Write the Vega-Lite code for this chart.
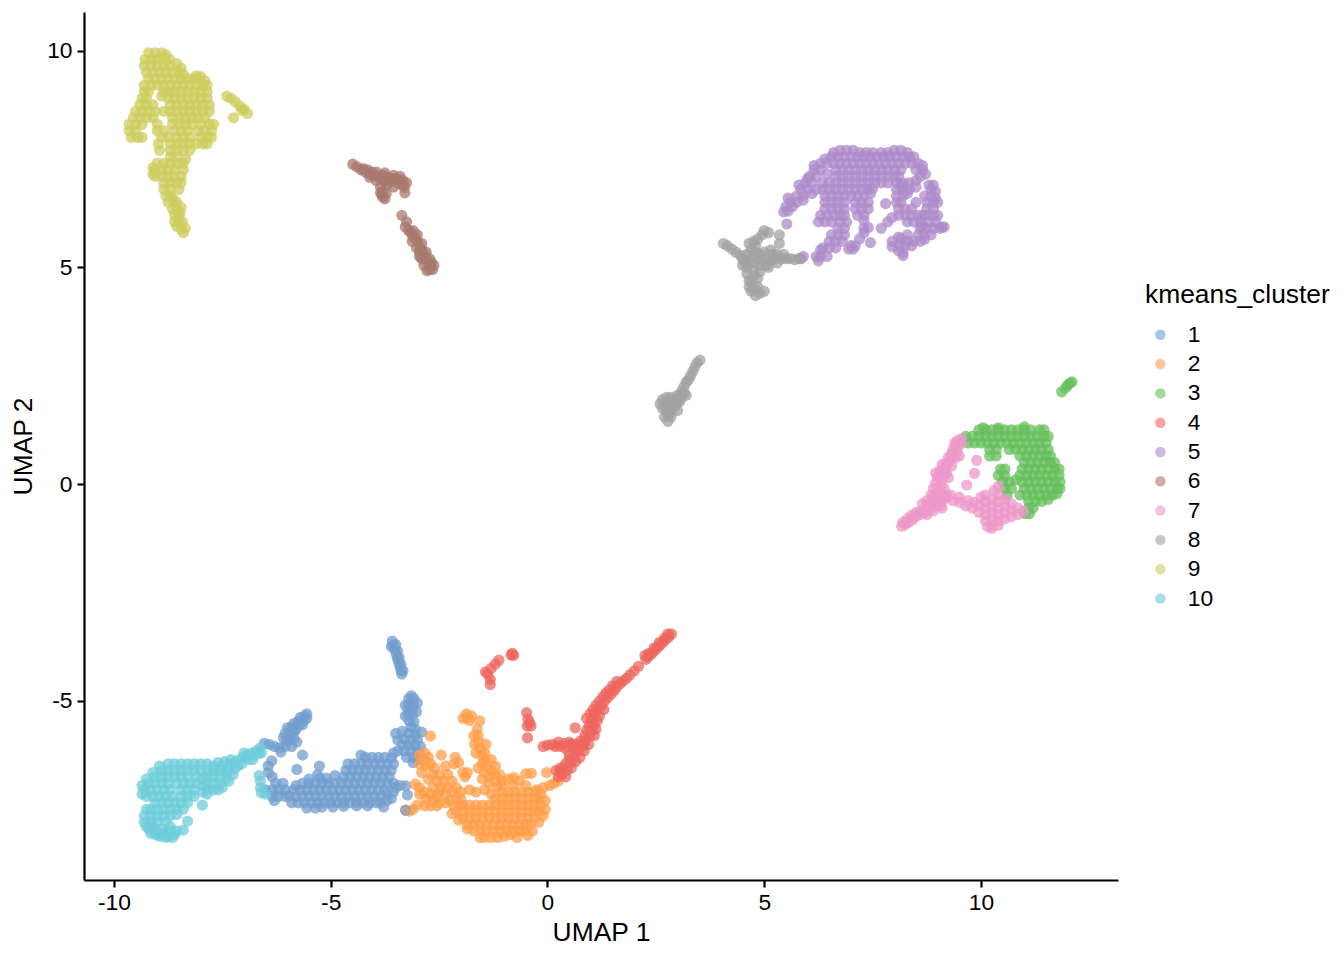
{"$schema":"https://vega.github.io/schema/vega-lite/v6.json","width":1034,"height":868,"autosize":{"type":"none"},"padding":{"left":84,"top":12,"right":226,"bottom":80},"background":"white","config":{"view":{"stroke":null},"font":"Liberation Sans"},"data":{"values":[
{"x":-4.49,"y":7.38,"c":6},{"x":-4.4,"y":7.32,"c":6},{"x":-4.3,"y":7.25,"c":6},{"x":-4.2,"y":7.2,"c":6},{"x":-4.1,"y":7.15,"c":6},{"x":-4,"y":7.12,"c":6},{"x":-3.9,"y":7.1,"c":6},{"x":-3.8,"y":7.12,"c":6},{"x":-3.7,"y":7.08,"c":6},{"x":-3.6,"y":7.05,"c":6},{"x":-3.5,"y":7.05,"c":6},{"x":-3.4,"y":7.02,"c":6},{"x":-3.33,"y":7,"c":6},{"x":-4.25,"y":7.28,"c":6},{"x":-4.05,"y":7.2,"c":6},{"x":-3.85,"y":7.05,"c":6},{"x":-3.75,"y":6.98,"c":6},{"x":-3.6,"y":6.98,"c":6},{"x":-3.45,"y":6.95,"c":6},{"x":-3.35,"y":6.9,"c":6},{"x":-3.3,"y":6.85,"c":6},{"x":-3.95,"y":7,"c":6},{"x":-3.85,"y":6.85,"c":6},{"x":-3.85,"y":6.72,"c":6},{"x":-3.8,"y":6.62,"c":6},{"x":-3.75,"y":6.58,"c":6},{"x":-3.82,"y":6.68,"c":6},{"x":-3.55,"y":6.85,"c":6},{"x":-3.29,"y":6.72,"c":6},{"x":-3.36,"y":6.2,"c":6},{"x":-3.25,"y":6.05,"c":6},{"x":-3.28,"y":5.93,"c":6},{"x":-3.2,"y":5.85,"c":6},{"x":-3.15,"y":5.8,"c":6},{"x":-3.05,"y":5.7,"c":6},{"x":-3,"y":5.6,"c":6},{"x":-2.95,"y":5.5,"c":6},{"x":-2.9,"y":5.4,"c":6},{"x":-2.85,"y":5.3,"c":6},{"x":-2.8,"y":5.2,"c":6},{"x":-2.75,"y":5.1,"c":6},{"x":-2.7,"y":5.05,"c":6},{"x":-2.72,"y":4.95,"c":6},{"x":-2.78,"y":4.92,"c":6},{"x":-2.85,"y":5.05,"c":6},{"x":-2.68,"y":5.12,"c":6},{"x":-2.9,"y":5.2,"c":6},{"x":-2.95,"y":5.35,"c":6},{"x":-3.1,"y":5.85,"c":6},{"x":-4.15,"y":7.25,"c":6},{"x":-3.95,"y":7.2,"c":6},{"x":-3.75,"y":7.18,"c":6},{"x":-3.55,"y":7.12,"c":6},{"x":-3.4,"y":7.1,"c":6},{"x":-3.25,"y":6.95,"c":6},{"x":-4.1,"y":7.08,"c":6},{"x":-3.7,"y":6.9,"c":6},{"x":-3.8,"y":6.75,"c":6},{"x":-3.72,"y":6.7,"c":6},{"x":-2.62,"y":5.05,"c":6},{"x":-2.65,"y":4.95,"c":6},{"x":-3.1,"y":5.7,"c":6},{"x":-3,"y":5.75,"c":6},{"x":-2.9,"y":5.55,"c":6},{"x":-2.8,"y":5.35,"c":6},{"x":-2.72,"y":5.2,"c":6},{"x":-3.12,"y":5.6,"c":6},{"x":-3.02,"y":5.45,"c":6},{"x":-2.95,"y":5.25,"c":6},
{"x":-9.2,"y":9.95,"c":9},{"x":-9.05,"y":9.95,"c":9},{"x":-8.9,"y":9.95,"c":9},{"x":-8.8,"y":9.9,"c":9},{"x":-9.28,"y":9.8,"c":9},{"x":-9.13,"y":9.8,"c":9},{"x":-9,"y":9.8,"c":9},{"x":-8.85,"y":9.8,"c":9},{"x":-8.72,"y":9.8,"c":9},{"x":-9.3,"y":9.65,"c":9},{"x":-9.15,"y":9.65,"c":9},{"x":-9,"y":9.65,"c":9},{"x":-8.85,"y":9.65,"c":9},{"x":-8.7,"y":9.65,"c":9},{"x":-8.55,"y":9.7,"c":9},{"x":-8.45,"y":9.6,"c":9},{"x":-9.25,"y":9.5,"c":9},{"x":-9.1,"y":9.5,"c":9},{"x":-8.95,"y":9.5,"c":9},{"x":-8.8,"y":9.5,"c":9},{"x":-8.65,"y":9.5,"c":9},{"x":-8.5,"y":9.5,"c":9},{"x":-8.4,"y":9.45,"c":9},{"x":-8.1,"y":9.42,"c":9},{"x":-8,"y":9.4,"c":9},{"x":-9.2,"y":9.35,"c":9},{"x":-9.05,"y":9.35,"c":9},{"x":-8.9,"y":9.35,"c":9},{"x":-8.75,"y":9.35,"c":9},{"x":-8.6,"y":9.35,"c":9},{"x":-8.45,"y":9.35,"c":9},{"x":-8.3,"y":9.35,"c":9},{"x":-8.15,"y":9.35,"c":9},{"x":-7.9,"y":9.3,"c":9},{"x":-9.3,"y":9.2,"c":9},{"x":-9.15,"y":9.2,"c":9},{"x":-9,"y":9.2,"c":9},{"x":-8.85,"y":9.2,"c":9},{"x":-8.7,"y":9.2,"c":9},{"x":-8.55,"y":9.2,"c":9},{"x":-8.4,"y":9.2,"c":9},{"x":-8.25,"y":9.2,"c":9},{"x":-8.1,"y":9.2,"c":9},{"x":-7.95,"y":9.2,"c":9},{"x":-7.85,"y":9.2,"c":9},{"x":-9.3,"y":9.05,"c":9},{"x":-9.2,"y":9.05,"c":9},{"x":-8.85,"y":9.05,"c":9},{"x":-8.72,"y":9.05,"c":9},{"x":-8.6,"y":9.05,"c":9},{"x":-8.45,"y":9.05,"c":9},{"x":-8.3,"y":9.05,"c":9},{"x":-8.15,"y":9.05,"c":9},{"x":-8,"y":9.05,"c":9},{"x":-7.85,"y":9.05,"c":9},{"x":-9.35,"y":8.9,"c":9},{"x":-9.25,"y":8.9,"c":9},{"x":-8.9,"y":8.95,"c":9},{"x":-8.75,"y":8.9,"c":9},{"x":-8.6,"y":8.9,"c":9},{"x":-8.45,"y":8.9,"c":9},{"x":-8.3,"y":8.9,"c":9},{"x":-8.15,"y":8.9,"c":9},{"x":-8,"y":8.9,"c":9},{"x":-7.85,"y":8.9,"c":9},{"x":-9.4,"y":8.75,"c":9},{"x":-9.25,"y":8.75,"c":9},{"x":-9.1,"y":8.75,"c":9},{"x":-8.7,"y":8.75,"c":9},{"x":-8.55,"y":8.75,"c":9},{"x":-8.4,"y":8.75,"c":9},{"x":-8.25,"y":8.75,"c":9},{"x":-8.1,"y":8.75,"c":9},{"x":-7.95,"y":8.75,"c":9},{"x":-7.8,"y":8.75,"c":9},{"x":-9.5,"y":8.6,"c":9},{"x":-9.35,"y":8.6,"c":9},{"x":-9.2,"y":8.6,"c":9},{"x":-9.05,"y":8.6,"c":9},{"x":-8.85,"y":8.6,"c":9},{"x":-8.7,"y":8.6,"c":9},{"x":-8.55,"y":8.6,"c":9},{"x":-8.4,"y":8.6,"c":9},{"x":-8.25,"y":8.6,"c":9},{"x":-8.1,"y":8.6,"c":9},{"x":-7.95,"y":8.6,"c":9},{"x":-7.8,"y":8.6,"c":9},{"x":-9.55,"y":8.45,"c":9},{"x":-9.4,"y":8.45,"c":9},{"x":-9.25,"y":8.45,"c":9},{"x":-9.1,"y":8.45,"c":9},{"x":-8.65,"y":8.45,"c":9},{"x":-8.5,"y":8.45,"c":9},{"x":-8.35,"y":8.45,"c":9},{"x":-8.2,"y":8.45,"c":9},{"x":-8.05,"y":8.45,"c":9},{"x":-7.9,"y":8.45,"c":9},{"x":-9.65,"y":8.3,"c":9},{"x":-9.5,"y":8.3,"c":9},{"x":-9.35,"y":8.3,"c":9},{"x":-9,"y":8.3,"c":9},{"x":-8.65,"y":8.3,"c":9},{"x":-8.5,"y":8.3,"c":9},{"x":-8.35,"y":8.3,"c":9},{"x":-8.2,"y":8.3,"c":9},{"x":-8,"y":8.3,"c":9},{"x":-7.8,"y":8.3,"c":9},{"x":-7.7,"y":8.3,"c":9},{"x":-9.65,"y":8.15,"c":9},{"x":-9.5,"y":8.15,"c":9},{"x":-9,"y":8.15,"c":9},{"x":-8.85,"y":8.15,"c":9},{"x":-8.6,"y":8.15,"c":9},{"x":-8.45,"y":8.15,"c":9},{"x":-8.3,"y":8.15,"c":9},{"x":-8.05,"y":8.15,"c":9},{"x":-7.9,"y":8.15,"c":9},{"x":-7.75,"y":8.15,"c":9},{"x":-9.6,"y":8,"c":9},{"x":-9.45,"y":8,"c":9},{"x":-9.35,"y":8,"c":9},{"x":-8.9,"y":8,"c":9},{"x":-8.75,"y":8,"c":9},{"x":-8.55,"y":8,"c":9},{"x":-8.4,"y":8,"c":9},{"x":-8.25,"y":8,"c":9},{"x":-8,"y":8,"c":9},{"x":-7.85,"y":8,"c":9},{"x":-7.75,"y":8,"c":9},{"x":-8.97,"y":7.85,"c":9},{"x":-8.7,"y":7.85,"c":9},{"x":-8.55,"y":7.85,"c":9},{"x":-8.4,"y":7.85,"c":9},{"x":-8.25,"y":7.85,"c":9},{"x":-8.1,"y":7.85,"c":9},{"x":-7.95,"y":7.85,"c":9},{"x":-7.85,"y":7.85,"c":9},{"x":-8.95,"y":7.7,"c":9},{"x":-8.7,"y":7.7,"c":9},{"x":-8.55,"y":7.7,"c":9},{"x":-8.4,"y":7.7,"c":9},{"x":-8.25,"y":7.7,"c":9},{"x":-8.7,"y":7.55,"c":9},{"x":-8.55,"y":7.55,"c":9},{"x":-8.35,"y":7.5,"c":9},{"x":-9,"y":7.4,"c":9},{"x":-8.85,"y":7.4,"c":9},{"x":-8.7,"y":7.4,"c":9},{"x":-8.55,"y":7.4,"c":9},{"x":-8.4,"y":7.4,"c":9},{"x":-9.1,"y":7.3,"c":9},{"x":-9.05,"y":7.25,"c":9},{"x":-8.9,"y":7.25,"c":9},{"x":-8.75,"y":7.25,"c":9},{"x":-8.6,"y":7.25,"c":9},{"x":-8.4,"y":7.25,"c":9},{"x":-9.1,"y":7.15,"c":9},{"x":-9.05,"y":7.1,"c":9},{"x":-8.9,"y":7.1,"c":9},{"x":-8.75,"y":7.1,"c":9},{"x":-8.6,"y":7.1,"c":9},{"x":-8.45,"y":7.1,"c":9},{"x":-8.85,"y":6.95,"c":9},{"x":-8.7,"y":6.95,"c":9},{"x":-8.55,"y":6.95,"c":9},{"x":-8.45,"y":6.95,"c":9},{"x":-8.85,"y":6.8,"c":9},{"x":-8.7,"y":6.8,"c":9},{"x":-8.5,"y":6.8,"c":9},{"x":-8.8,"y":6.65,"c":9},{"x":-8.7,"y":6.65,"c":9},{"x":-8.65,"y":6.6,"c":9},{"x":-8.75,"y":6.5,"c":9},{"x":-8.6,"y":6.5,"c":9},{"x":-8.55,"y":6.5,"c":9},{"x":-8.65,"y":6.35,"c":9},{"x":-8.55,"y":6.35,"c":9},{"x":-8.45,"y":6.38,"c":9},{"x":-8.6,"y":6.2,"c":9},{"x":-8.5,"y":6.2,"c":9},{"x":-8.48,"y":6.25,"c":9},{"x":-8.6,"y":6.05,"c":9},{"x":-8.5,"y":6.05,"c":9},{"x":-8.42,"y":6.05,"c":9},{"x":-8.55,"y":5.95,"c":9},{"x":-8.45,"y":5.88,"c":9},{"x":-8.35,"y":5.9,"c":9},{"x":-8.4,"y":5.8,"c":9},{"x":-7.4,"y":8.95,"c":9},{"x":-7.3,"y":8.9,"c":9},{"x":-7.2,"y":8.82,"c":9},{"x":-7.1,"y":8.72,"c":9},{"x":-7,"y":8.65,"c":9},{"x":-6.92,"y":8.55,"c":9},{"x":-7.05,"y":8.62,"c":9},{"x":-7.24,"y":8.45,"c":9},
{"x":6.75,"y":7.7,"c":5},{"x":6.9,"y":7.7,"c":5},{"x":7.05,"y":7.7,"c":5},{"x":7.2,"y":7.65,"c":5},{"x":7.35,"y":7.65,"c":5},{"x":7.5,"y":7.65,"c":5},{"x":7.7,"y":7.65,"c":5},{"x":7.85,"y":7.65,"c":5},{"x":8,"y":7.7,"c":5},{"x":8.15,"y":7.7,"c":5},{"x":8.3,"y":7.65,"c":5},{"x":6.6,"y":7.65,"c":5},{"x":6.55,"y":7.55,"c":5},{"x":6.7,"y":7.55,"c":5},{"x":6.85,"y":7.55,"c":5},{"x":7,"y":7.55,"c":5},{"x":7.15,"y":7.55,"c":5},{"x":7.3,"y":7.55,"c":5},{"x":7.45,"y":7.55,"c":5},{"x":7.6,"y":7.55,"c":5},{"x":7.75,"y":7.55,"c":5},{"x":7.9,"y":7.55,"c":5},{"x":8.05,"y":7.55,"c":5},{"x":8.2,"y":7.55,"c":5},{"x":8.35,"y":7.55,"c":5},{"x":8.45,"y":7.55,"c":5},{"x":6.4,"y":7.5,"c":5},{"x":6.3,"y":7.4,"c":5},{"x":6.45,"y":7.4,"c":5},{"x":6.6,"y":7.4,"c":5},{"x":6.75,"y":7.4,"c":5},{"x":6.9,"y":7.4,"c":5},{"x":7.05,"y":7.4,"c":5},{"x":7.2,"y":7.4,"c":5},{"x":7.35,"y":7.4,"c":5},{"x":7.5,"y":7.4,"c":5},{"x":7.65,"y":7.4,"c":5},{"x":7.8,"y":7.4,"c":5},{"x":7.95,"y":7.4,"c":5},{"x":8.1,"y":7.4,"c":5},{"x":8.25,"y":7.4,"c":5},{"x":8.4,"y":7.4,"c":5},{"x":8.55,"y":7.4,"c":5},{"x":8.65,"y":7.35,"c":5},{"x":6.15,"y":7.35,"c":5},{"x":6.15,"y":7.25,"c":5},{"x":6.3,"y":7.25,"c":5},{"x":6.65,"y":7.25,"c":5},{"x":6.8,"y":7.25,"c":5},{"x":6.95,"y":7.25,"c":5},{"x":7.1,"y":7.25,"c":5},{"x":7.25,"y":7.25,"c":5},{"x":7.4,"y":7.25,"c":5},{"x":7.55,"y":7.25,"c":5},{"x":7.7,"y":7.25,"c":5},{"x":7.85,"y":7.25,"c":5},{"x":8,"y":7.25,"c":5},{"x":8.15,"y":7.25,"c":5},{"x":8.5,"y":7.25,"c":5},{"x":8.65,"y":7.25,"c":5},{"x":8.72,"y":7.15,"c":5},{"x":6.05,"y":7.1,"c":5},{"x":6.2,"y":7.1,"c":5},{"x":6.45,"y":7.15,"c":5},{"x":6.65,"y":7.1,"c":5},{"x":6.8,"y":7.1,"c":5},{"x":6.95,"y":7.1,"c":5},{"x":7.1,"y":7.1,"c":5},{"x":7.25,"y":7.1,"c":5},{"x":7.4,"y":7.1,"c":5},{"x":7.55,"y":7.1,"c":5},{"x":7.7,"y":7.1,"c":5},{"x":7.85,"y":7.1,"c":5},{"x":8,"y":7.1,"c":5},{"x":8.1,"y":7.1,"c":5},{"x":8.6,"y":7.1,"c":5},{"x":6,"y":7.05,"c":5},{"x":5.95,"y":6.95,"c":5},{"x":6.1,"y":6.95,"c":5},{"x":6.35,"y":6.95,"c":5},{"x":6.5,"y":6.95,"c":5},{"x":6.65,"y":6.95,"c":5},{"x":6.8,"y":6.95,"c":5},{"x":6.95,"y":6.95,"c":5},{"x":7.1,"y":6.95,"c":5},{"x":7.25,"y":6.95,"c":5},{"x":7.4,"y":6.95,"c":5},{"x":7.55,"y":6.95,"c":5},{"x":7.7,"y":6.95,"c":5},{"x":7.85,"y":6.95,"c":5},{"x":8.05,"y":6.95,"c":5},{"x":8.2,"y":6.95,"c":5},{"x":8.35,"y":6.95,"c":5},{"x":8.5,"y":7,"c":5},{"x":8.8,"y":6.9,"c":5},{"x":8.9,"y":6.9,"c":5},{"x":8.15,"y":6.9,"c":5},{"x":5.8,"y":6.9,"c":5},{"x":5.85,"y":6.8,"c":5},{"x":6,"y":6.8,"c":5},{"x":6.2,"y":6.8,"c":5},{"x":6.35,"y":6.8,"c":5},{"x":6.5,"y":6.8,"c":5},{"x":6.65,"y":6.8,"c":5},{"x":6.8,"y":6.8,"c":5},{"x":6.95,"y":6.8,"c":5},{"x":7.1,"y":6.8,"c":5},{"x":7.25,"y":6.8,"c":5},{"x":7.4,"y":6.8,"c":5},{"x":7.5,"y":6.82,"c":5},{"x":8.05,"y":6.8,"c":5},{"x":8.2,"y":6.8,"c":5},{"x":8.35,"y":6.8,"c":5},{"x":8.5,"y":6.85,"c":5},{"x":8.85,"y":6.8,"c":5},{"x":8.95,"y":6.75,"c":5},{"x":5.75,"y":6.65,"c":5},{"x":5.9,"y":6.65,"c":5},{"x":6.1,"y":6.7,"c":5},{"x":6.4,"y":6.65,"c":5},{"x":6.55,"y":6.65,"c":5},{"x":6.7,"y":6.65,"c":5},{"x":6.85,"y":6.65,"c":5},{"x":7,"y":6.65,"c":5},{"x":7.15,"y":6.65,"c":5},{"x":7.3,"y":6.65,"c":5},{"x":7.45,"y":6.7,"c":5},{"x":8.05,"y":6.65,"c":5},{"x":8.2,"y":6.65,"c":5},{"x":8.3,"y":6.7,"c":5},{"x":8.7,"y":6.65,"c":5},{"x":8.85,"y":6.65,"c":5},{"x":8.95,"y":6.6,"c":5},{"x":5.55,"y":6.6,"c":5},{"x":5.6,"y":6.5,"c":5},{"x":5.75,"y":6.5,"c":5},{"x":5.9,"y":6.55,"c":5},{"x":6.4,"y":6.5,"c":5},{"x":6.55,"y":6.5,"c":5},{"x":6.7,"y":6.5,"c":5},{"x":6.85,"y":6.5,"c":5},{"x":7.1,"y":6.5,"c":5},{"x":7.25,"y":6.5,"c":5},{"x":7.4,"y":6.5,"c":5},{"x":7.8,"y":6.47,"c":5},{"x":8.05,"y":6.5,"c":5},{"x":8.15,"y":6.5,"c":5},{"x":8.5,"y":6.5,"c":5},{"x":8.75,"y":6.5,"c":5},{"x":8.9,"y":6.5,"c":5},{"x":9,"y":6.5,"c":5},{"x":5.5,"y":6.4,"c":5},{"x":5.65,"y":6.4,"c":5},{"x":6.4,"y":6.35,"c":5},{"x":6.55,"y":6.35,"c":5},{"x":6.7,"y":6.35,"c":5},{"x":6.85,"y":6.35,"c":5},{"x":7.1,"y":6.35,"c":5},{"x":7.25,"y":6.35,"c":5},{"x":7.4,"y":6.35,"c":5},{"x":8.1,"y":6.35,"c":5},{"x":8.25,"y":6.35,"c":5},{"x":8.4,"y":6.35,"c":5},{"x":8.75,"y":6.35,"c":5},{"x":8.9,"y":6.35,"c":5},{"x":5.45,"y":6.28,"c":5},{"x":5.55,"y":6.3,"c":5},{"x":6.3,"y":6.2,"c":5},{"x":6.45,"y":6.2,"c":5},{"x":6.6,"y":6.2,"c":5},{"x":6.75,"y":6.2,"c":5},{"x":6.85,"y":6.2,"c":5},{"x":7.15,"y":6.2,"c":5},{"x":7.3,"y":6.2,"c":5},{"x":8.1,"y":6.2,"c":5},{"x":8.25,"y":6.2,"c":5},{"x":8.4,"y":6.2,"c":5},{"x":8.55,"y":6.2,"c":5},{"x":8.65,"y":6.2,"c":5},{"x":8.75,"y":6.2,"c":5},{"x":8.9,"y":6.2,"c":5},{"x":9,"y":6.2,"c":5},{"x":6.25,"y":6.05,"c":5},{"x":6.4,"y":6.05,"c":5},{"x":6.55,"y":6.05,"c":5},{"x":6.75,"y":6.05,"c":5},{"x":6.9,"y":6.05,"c":5},{"x":7.3,"y":6.08,"c":5},{"x":7.85,"y":6.05,"c":5},{"x":7.95,"y":6.15,"c":5},{"x":8.3,"y":6.05,"c":5},{"x":8.45,"y":6.05,"c":5},{"x":8.6,"y":6.05,"c":5},{"x":8.8,"y":6.05,"c":5},{"x":8.95,"y":6.05,"c":5},{"x":5.52,"y":6,"c":5},{"x":8.65,"y":5.95,"c":5},{"x":6.7,"y":5.9,"c":5},{"x":6.85,"y":5.9,"c":5},{"x":7.3,"y":5.9,"c":5},{"x":7.4,"y":5.92,"c":5},{"x":7.7,"y":5.9,"c":5},{"x":8.6,"y":5.9,"c":5},{"x":8.75,"y":5.9,"c":5},{"x":8.9,"y":5.9,"c":5},{"x":9.1,"y":5.93,"c":5},{"x":9.15,"y":5.93,"c":5},{"x":9.05,"y":5.9,"c":5},{"x":6.55,"y":5.75,"c":5},{"x":6.7,"y":5.75,"c":5},{"x":6.85,"y":5.75,"c":5},{"x":7.3,"y":5.8,"c":5},{"x":8.3,"y":5.75,"c":5},{"x":8.55,"y":5.75,"c":5},{"x":8.7,"y":5.75,"c":5},{"x":8.85,"y":5.75,"c":5},{"x":8.1,"y":5.7,"c":5},{"x":6.5,"y":5.6,"c":5},{"x":6.65,"y":5.6,"c":5},{"x":6.8,"y":5.6,"c":5},{"x":7.2,"y":5.66,"c":5},{"x":7.45,"y":5.57,"c":5},{"x":7.95,"y":5.6,"c":5},{"x":8.15,"y":5.65,"c":5},{"x":8.3,"y":5.6,"c":5},{"x":8.45,"y":5.6,"c":5},{"x":8.6,"y":5.6,"c":5},{"x":8.7,"y":5.65,"c":5},{"x":6.35,"y":5.45,"c":5},{"x":6.5,"y":5.45,"c":5},{"x":6.65,"y":5.45,"c":5},{"x":7,"y":5.5,"c":5},{"x":7.1,"y":5.5,"c":5},{"x":7.95,"y":5.48,"c":5},{"x":8.1,"y":5.5,"c":5},{"x":8.25,"y":5.5,"c":5},{"x":8.4,"y":5.5,"c":5},{"x":6.3,"y":5.4,"c":5},{"x":6.95,"y":5.42,"c":5},{"x":7.05,"y":5.42,"c":5},{"x":8.1,"y":5.38,"c":5},{"x":8.2,"y":5.35,"c":5},{"x":5.9,"y":5.25,"c":5},{"x":6.2,"y":5.25,"c":5},{"x":6.3,"y":5.25,"c":5},{"x":6.45,"y":5.25,"c":5},{"x":8.2,"y":5.27,"c":5},{"x":5.85,"y":5.2,"c":5},{"x":6.25,"y":5.15,"c":5},
{"x":4.06,"y":5.55,"c":8},{"x":4.15,"y":5.5,"c":8},{"x":4.25,"y":5.42,"c":8},{"x":4.35,"y":5.35,"c":8},{"x":4.45,"y":5.28,"c":8},{"x":4.5,"y":5.2,"c":8},{"x":4.6,"y":5.3,"c":8},{"x":4.55,"y":5.1,"c":8},{"x":4.6,"y":5,"c":8},{"x":4.7,"y":5.2,"c":8},{"x":4.75,"y":5.1,"c":8},{"x":4.85,"y":5.2,"c":8},{"x":4.9,"y":5.3,"c":8},{"x":5,"y":5.35,"c":8},{"x":5.05,"y":5.2,"c":8},{"x":5.2,"y":5.3,"c":8},{"x":5.3,"y":5.3,"c":8},{"x":5.4,"y":5.2,"c":8},{"x":5.5,"y":5.2,"c":8},{"x":5.6,"y":5.2,"c":8},{"x":5.7,"y":5.18,"c":8},{"x":5.8,"y":5.2,"c":8},{"x":5.15,"y":5.15,"c":8},{"x":5.3,"y":5.1,"c":8},{"x":5.05,"y":5.05,"c":8},{"x":4.9,"y":5.05,"c":8},{"x":4.75,"y":4.95,"c":8},{"x":4.6,"y":4.85,"c":8},{"x":4.65,"y":4.7,"c":8},{"x":4.65,"y":4.55,"c":8},{"x":4.7,"y":4.45,"c":8},{"x":4.8,"y":4.35,"c":8},{"x":4.9,"y":4.4,"c":8},{"x":5,"y":4.45,"c":8},{"x":4.78,"y":4.5,"c":8},{"x":4.75,"y":4.8,"c":8},{"x":4.9,"y":4.9,"c":8},{"x":5.1,"y":5,"c":8},{"x":4.7,"y":5.4,"c":8},{"x":4.8,"y":5.5,"c":8},{"x":4.85,"y":5.65,"c":8},{"x":4.95,"y":5.75,"c":8},{"x":5,"y":5.85,"c":8},{"x":5.1,"y":5.8,"c":8},{"x":4.75,"y":5.6,"c":8},{"x":5.35,"y":5.75,"c":8},{"x":5.35,"y":5.55,"c":8},{"x":4.65,"y":5.55,"c":8},{"x":4.6,"y":5.15,"c":8},{"x":4.8,"y":5.35,"c":8},{"x":4.95,"y":5.15,"c":8},{"x":5.15,"y":5.4,"c":8},{"x":5.25,"y":5.2,"c":8},{"x":5.45,"y":5.3,"c":8},{"x":4.5,"y":5.05,"c":8},{"x":4.85,"y":4.75,"c":8},{"x":4.7,"y":4.65,"c":8},{"x":4.85,"y":4.55,"c":8},{"x":3.52,"y":2.86,"c":8},{"x":3.45,"y":2.8,"c":8},{"x":3.4,"y":2.7,"c":8},{"x":3.35,"y":2.6,"c":8},{"x":3.3,"y":2.5,"c":8},{"x":3.25,"y":2.4,"c":8},{"x":3.2,"y":2.35,"c":8},{"x":3.15,"y":2.25,"c":8},{"x":3.1,"y":2.15,"c":8},{"x":3.2,"y":2.05,"c":8},{"x":3.1,"y":2,"c":8},{"x":3,"y":2.05,"c":8},{"x":3.05,"y":1.9,"c":8},{"x":2.95,"y":1.95,"c":8},{"x":2.85,"y":2,"c":8},{"x":2.75,"y":2,"c":8},{"x":2.65,"y":1.95,"c":8},{"x":2.6,"y":1.85,"c":8},{"x":2.7,"y":1.8,"c":8},{"x":2.85,"y":1.85,"c":8},{"x":2.95,"y":1.8,"c":8},{"x":2.65,"y":1.75,"c":8},{"x":2.75,"y":1.65,"c":8},{"x":2.85,"y":1.7,"c":8},{"x":2.7,"y":1.55,"c":8},{"x":2.78,"y":1.45,"c":8},{"x":2.85,"y":1.55,"c":8},{"x":3,"y":1.7,"c":8},{"x":2.8,"y":1.9,"c":8},{"x":2.9,"y":1.9,"c":8},{"x":3,"y":1.9,"c":8},{"x":2.75,"y":1.75,"c":8},{"x":3.05,"y":2.05,"c":8},{"x":3.15,"y":2.1,"c":8},{"x":2.8,"y":1.6,"c":8},
{"x":12.1,"y":2.36,"c":3},{"x":12.05,"y":2.33,"c":3},{"x":12,"y":2.28,"c":3},{"x":11.95,"y":2.22,"c":3},{"x":11.86,"y":2.13,"c":3},{"x":10.05,"y":1.3,"c":3},{"x":10.4,"y":1.3,"c":3},{"x":11,"y":1.32,"c":3},{"x":9.95,"y":1.25,"c":3},{"x":10.1,"y":1.25,"c":3},{"x":10.25,"y":1.25,"c":3},{"x":10.4,"y":1.25,"c":3},{"x":10.55,"y":1.25,"c":3},{"x":10.7,"y":1.25,"c":3},{"x":10.85,"y":1.25,"c":3},{"x":11,"y":1.25,"c":3},{"x":11.15,"y":1.25,"c":3},{"x":11.35,"y":1.25,"c":3},{"x":11.45,"y":1.25,"c":3},{"x":9.65,"y":1.1,"c":3},{"x":9.8,"y":1.1,"c":3},{"x":9.95,"y":1.1,"c":3},{"x":10.1,"y":1.1,"c":3},{"x":10.25,"y":1.1,"c":3},{"x":10.4,"y":1.1,"c":3},{"x":10.55,"y":1.1,"c":3},{"x":10.7,"y":1.1,"c":3},{"x":10.85,"y":1.1,"c":3},{"x":11,"y":1.1,"c":3},{"x":11.15,"y":1.1,"c":3},{"x":11.3,"y":1.1,"c":3},{"x":11.45,"y":1.1,"c":3},{"x":11.55,"y":1.1,"c":3},{"x":9.7,"y":0.95,"c":3},{"x":9.85,"y":0.95,"c":3},{"x":10,"y":0.95,"c":3},{"x":10.15,"y":0.95,"c":3},{"x":10.3,"y":0.95,"c":3},{"x":10.45,"y":0.95,"c":3},{"x":10.6,"y":0.95,"c":3},{"x":10.75,"y":0.95,"c":3},{"x":10.9,"y":0.95,"c":3},{"x":11.05,"y":0.95,"c":3},{"x":11.2,"y":0.95,"c":3},{"x":11.35,"y":0.95,"c":3},{"x":11.5,"y":0.95,"c":3},{"x":10.2,"y":0.8,"c":3},{"x":10.35,"y":0.8,"c":3},{"x":10.65,"y":0.8,"c":3},{"x":10.8,"y":0.8,"c":3},{"x":10.95,"y":0.8,"c":3},{"x":11.1,"y":0.8,"c":3},{"x":11.25,"y":0.8,"c":3},{"x":11.4,"y":0.8,"c":3},{"x":11.55,"y":0.8,"c":3},{"x":10.2,"y":0.65,"c":3},{"x":10.35,"y":0.65,"c":3},{"x":10.9,"y":0.65,"c":3},{"x":11.05,"y":0.65,"c":3},{"x":11.2,"y":0.65,"c":3},{"x":11.35,"y":0.65,"c":3},{"x":11.5,"y":0.65,"c":3},{"x":11.6,"y":0.65,"c":3},{"x":11,"y":0.5,"c":3},{"x":11.15,"y":0.5,"c":3},{"x":11.3,"y":0.5,"c":3},{"x":11.45,"y":0.5,"c":3},{"x":11.6,"y":0.5,"c":3},{"x":11.7,"y":0.5,"c":3},{"x":10.45,"y":0.35,"c":3},{"x":10.55,"y":0.35,"c":3},{"x":10.95,"y":0.35,"c":3},{"x":11.1,"y":0.35,"c":3},{"x":11.25,"y":0.35,"c":3},{"x":11.4,"y":0.35,"c":3},{"x":11.55,"y":0.35,"c":3},{"x":11.7,"y":0.35,"c":3},{"x":11.8,"y":0.35,"c":3},{"x":10.4,"y":0.2,"c":3},{"x":10.55,"y":0.2,"c":3},{"x":10.9,"y":0.2,"c":3},{"x":11.05,"y":0.2,"c":3},{"x":11.2,"y":0.2,"c":3},{"x":11.35,"y":0.2,"c":3},{"x":11.5,"y":0.2,"c":3},{"x":11.65,"y":0.2,"c":3},{"x":11.8,"y":0.2,"c":3},{"x":10.5,"y":0.05,"c":3},{"x":10.65,"y":0.05,"c":3},{"x":10.8,"y":0.1,"c":3},{"x":10.95,"y":0.05,"c":3},{"x":11.1,"y":0.05,"c":3},{"x":11.25,"y":0.05,"c":3},{"x":11.4,"y":0.05,"c":3},{"x":11.55,"y":0.05,"c":3},{"x":11.7,"y":0.05,"c":3},{"x":11.82,"y":0.05,"c":3},{"x":10.55,"y":-0.1,"c":3},{"x":10.7,"y":-0.1,"c":3},{"x":11,"y":-0.1,"c":3},{"x":11.15,"y":-0.1,"c":3},{"x":11.3,"y":-0.1,"c":3},{"x":11.45,"y":-0.1,"c":3},{"x":11.6,"y":-0.1,"c":3},{"x":11.75,"y":-0.1,"c":3},{"x":11.82,"y":-0.1,"c":3},{"x":10.6,"y":-0.25,"c":3},{"x":10.9,"y":-0.25,"c":3},{"x":11.05,"y":-0.25,"c":3},{"x":11.2,"y":-0.25,"c":3},{"x":11.35,"y":-0.25,"c":3},{"x":11.5,"y":-0.25,"c":3},{"x":11.65,"y":-0.25,"c":3},{"x":11.75,"y":-0.22,"c":3},{"x":11.1,"y":-0.4,"c":3},{"x":11.25,"y":-0.4,"c":3},{"x":11.4,"y":-0.4,"c":3},{"x":11.55,"y":-0.35,"c":3},{"x":11.1,"y":-0.55,"c":3},{"x":11.2,"y":-0.55,"c":3},{"x":11.02,"y":-0.68,"c":3},{"x":11.12,"y":-0.68,"c":3},
{"x":9.55,"y":1.05,"c":7},{"x":9.45,"y":1,"c":7},{"x":9.55,"y":0.95,"c":7},{"x":9.4,"y":0.95,"c":7},{"x":9.5,"y":0.9,"c":7},{"x":9.38,"y":0.85,"c":7},{"x":9.35,"y":0.78,"c":7},{"x":9.45,"y":0.75,"c":7},{"x":9.32,"y":0.7,"c":7},{"x":9.5,"y":0.65,"c":7},{"x":9.25,"y":0.62,"c":7},{"x":9.4,"y":0.6,"c":7},{"x":9.3,"y":0.55,"c":7},{"x":9.2,"y":0.5,"c":7},{"x":9.1,"y":0.45,"c":7},{"x":9.32,"y":0.42,"c":7},{"x":9.2,"y":0.4,"c":7},{"x":9.15,"y":0.35,"c":7},{"x":9.05,"y":0.3,"c":7},{"x":9.2,"y":0.25,"c":7},{"x":9.1,"y":0.25,"c":7},{"x":8.95,"y":0.25,"c":7},{"x":9.25,"y":0.15,"c":7},{"x":9,"y":0.15,"c":7},{"x":9.12,"y":0.12,"c":7},{"x":8.95,"y":0.02,"c":7},{"x":9.08,"y":-0.02,"c":7},{"x":8.9,"y":-0.1,"c":7},{"x":9,"y":-0.12,"c":7},{"x":9.15,"y":-0.1,"c":7},{"x":8.85,"y":-0.25,"c":7},{"x":8.95,"y":-0.25,"c":7},{"x":9.2,"y":-0.25,"c":7},{"x":9.1,"y":-0.28,"c":7},{"x":8.9,"y":-0.3,"c":7},{"x":8.75,"y":-0.38,"c":7},{"x":8.65,"y":-0.45,"c":7},{"x":8.17,"y":-0.97,"c":7},{"x":8.25,"y":-0.93,"c":7},{"x":8.33,"y":-0.88,"c":7},{"x":8.42,"y":-0.82,"c":7},{"x":8.5,"y":-0.75,"c":7},{"x":8.6,"y":-0.7,"c":7},{"x":8.7,"y":-0.65,"c":7},{"x":8.8,"y":-0.58,"c":7},{"x":8.9,"y":-0.52,"c":7},{"x":9,"y":-0.45,"c":7},{"x":9.1,"y":-0.4,"c":7},{"x":9.2,"y":-0.32,"c":7},{"x":9.3,"y":-0.25,"c":7},{"x":8.75,"y":-0.5,"c":7},{"x":8.85,"y":-0.45,"c":7},{"x":8.95,"y":-0.38,"c":7},{"x":9.05,"y":-0.5,"c":7},{"x":8.6,"y":-0.62,"c":7},{"x":8.5,"y":-0.65,"c":7},{"x":8.4,"y":-0.72,"c":7},{"x":8.3,"y":-0.8,"c":7},{"x":8.2,"y":-0.88,"c":7},{"x":8.75,"y":-0.7,"c":7},{"x":8.9,"y":-0.62,"c":7},{"x":9.1,"y":-0.55,"c":7},{"x":9.35,"y":-0.38,"c":7},{"x":9.5,"y":-0.3,"c":7},{"x":9.7,"y":-0.38,"c":7},{"x":9.85,"y":-0.42,"c":7},{"x":9.5,"y":-0.42,"c":7},{"x":9.65,"y":-0.5,"c":7},{"x":9.8,"y":-0.55,"c":7},{"x":9.95,"y":-0.5,"c":7},{"x":9.95,"y":-0.65,"c":7},{"x":10.1,"y":-0.25,"c":7},{"x":10.1,"y":-0.4,"c":7},{"x":10.1,"y":-0.55,"c":7},{"x":10.1,"y":-0.7,"c":7},{"x":10.1,"y":-0.85,"c":7},{"x":10.15,"y":-0.98,"c":7},{"x":10.25,"y":-0.95,"c":7},{"x":10.25,"y":-1.02,"c":7},{"x":10.25,"y":-0.8,"c":7},{"x":10.25,"y":-0.65,"c":7},{"x":10.25,"y":-0.5,"c":7},{"x":10.25,"y":-0.35,"c":7},{"x":10.4,"y":-0.05,"c":7},{"x":10.3,"y":-0.15,"c":7},{"x":10.4,"y":-0.25,"c":7},{"x":10.4,"y":-0.4,"c":7},{"x":10.4,"y":-0.55,"c":7},{"x":10.4,"y":-0.7,"c":7},{"x":10.4,"y":-0.85,"c":7},{"x":10.4,"y":-0.95,"c":7},{"x":10.55,"y":-0.8,"c":7},{"x":10.55,"y":-0.65,"c":7},{"x":10.55,"y":-0.5,"c":7},{"x":10.55,"y":-0.35,"c":7},{"x":10.7,"y":-0.75,"c":7},{"x":10.7,"y":-0.6,"c":7},{"x":10.7,"y":-0.45,"c":7},{"x":10.85,"y":-0.7,"c":7},{"x":10.85,"y":-0.55,"c":7},{"x":10.98,"y":-0.63,"c":7},{"x":10,"y":-0.3,"c":7},{"x":9.9,"y":0.55,"c":7},{"x":9.85,"y":0.25,"c":7},{"x":9.67,"y":-0.02,"c":7},
{"x":-3.58,"y":-3.62,"c":1},{"x":-3.6,"y":-3.75,"c":1},{"x":-3.5,"y":-3.7,"c":1},{"x":-3.46,"y":-3.85,"c":1},{"x":-3.42,"y":-4,"c":1},{"x":-3.38,"y":-4.15,"c":1},{"x":-3.33,"y":-4.3,"c":1},{"x":-3.55,"y":-3.72,"c":1},{"x":-3.52,"y":-3.82,"c":1},{"x":-3.49,"y":-3.92,"c":1},{"x":-3.46,"y":-4.02,"c":1},{"x":-3.43,"y":-4.12,"c":1},{"x":-3.4,"y":-4.22,"c":1},{"x":-3.38,"y":-4.3,"c":1},{"x":-3.36,"y":-4.38,"c":1},{"x":-3.14,"y":-4.88,"c":1},{"x":-3.2,"y":-4.95,"c":1},{"x":-3.08,"y":-4.95,"c":1},{"x":-3.2,"y":-5.08,"c":1},{"x":-3.1,"y":-5.08,"c":1},{"x":-3,"y":-5.05,"c":1},{"x":-3.28,"y":-5.1,"c":1},{"x":-3.22,"y":-5.2,"c":1},{"x":-3.12,"y":-5.2,"c":1},{"x":-3.02,"y":-5.25,"c":1},{"x":-3.22,"y":-5.32,"c":1},{"x":-3.12,"y":-5.32,"c":1},{"x":-3.28,"y":-5.35,"c":1},{"x":-3.19,"y":-5.46,"c":1},{"x":-3.08,"y":-5.48,"c":1},{"x":-3.15,"y":-5.6,"c":1},{"x":-3.05,"y":-5.65,"c":1},{"x":-3.5,"y":-5.75,"c":1},{"x":-3.35,"y":-5.7,"c":1},{"x":-3.2,"y":-5.75,"c":1},{"x":-3.05,"y":-5.78,"c":1},{"x":-2.9,"y":-5.72,"c":1},{"x":-3.45,"y":-5.9,"c":1},{"x":-3.3,"y":-5.88,"c":1},{"x":-3.15,"y":-5.9,"c":1},{"x":-3,"y":-5.9,"c":1},{"x":-3.35,"y":-6.02,"c":1},{"x":-3.2,"y":-6.02,"c":1},{"x":-3.05,"y":-6.02,"c":1},{"x":-2.93,"y":-6.05,"c":1},{"x":-3.45,"y":-6.15,"c":1},{"x":-3.3,"y":-6.15,"c":1},{"x":-3.15,"y":-6.15,"c":1},{"x":-3,"y":-6.18,"c":1},{"x":-3.25,"y":-6.3,"c":1},{"x":-3.1,"y":-6.3,"c":1},{"x":-2.98,"y":-6.35,"c":1},{"x":-3.1,"y":-6.42,"c":1},{"x":-5.55,"y":-5.3,"c":1},{"x":-5.6,"y":-5.35,"c":1},{"x":-5.7,"y":-5.38,"c":1},{"x":-5.55,"y":-5.4,"c":1},{"x":-5.62,"y":-5.45,"c":1},{"x":-5.75,"y":-5.47,"c":1},{"x":-5.85,"y":-5.52,"c":1},{"x":-5.65,"y":-5.55,"c":1},{"x":-5.72,"y":-5.55,"c":1},{"x":-5.9,"y":-5.62,"c":1},{"x":-6,"y":-5.62,"c":1},{"x":-5.8,"y":-5.65,"c":1},{"x":-5.82,"y":-5.68,"c":1},{"x":-6.05,"y":-5.75,"c":1},{"x":-5.92,"y":-5.78,"c":1},{"x":-6.09,"y":-5.85,"c":1},{"x":-5.85,"y":-5.85,"c":1},{"x":-5.95,"y":-5.9,"c":1},{"x":-6.02,"y":-5.92,"c":1},{"x":-5.78,"y":-5.95,"c":1},{"x":-6.53,"y":-5.98,"c":1},{"x":-6.42,"y":-6,"c":1},{"x":-6.18,"y":-6.08,"c":1},{"x":-6.3,"y":-6.05,"c":1},{"x":-6.05,"y":-6.05,"c":1},{"x":-5.9,"y":-6.05,"c":1},{"x":-6.15,"y":-6.18,"c":1},{"x":-5.65,"y":-6.25,"c":1},{"x":-6.36,"y":-6.38,"c":1},{"x":-6.44,"y":-6.5,"c":1},{"x":-6.44,"y":-6.65,"c":1},{"x":-5.78,"y":-6.58,"c":1},{"x":-6.35,"y":-6.75,"c":1},{"x":-6.27,"y":-6.9,"c":1},{"x":-6.1,"y":-6.9,"c":1},{"x":-5.8,"y":-6.95,"c":1},{"x":-6.35,"y":-7.05,"c":1},{"x":-6.2,"y":-7.05,"c":1},{"x":-6.05,"y":-7.05,"c":1},{"x":-6.5,"y":-7.05,"c":1},{"x":-6.35,"y":-7.2,"c":1},{"x":-6.2,"y":-7.2,"c":1},{"x":-6.05,"y":-7.2,"c":1},{"x":-6.3,"y":-7.3,"c":1},{"x":-4.3,"y":-6.25,"c":1},{"x":-3.55,"y":-6.2,"c":1},{"x":-4.2,"y":-6.3,"c":1},{"x":-4.05,"y":-6.3,"c":1},{"x":-3.9,"y":-6.3,"c":1},{"x":-3.75,"y":-6.3,"c":1},{"x":-3.6,"y":-6.32,"c":1},{"x":-4.6,"y":-6.45,"c":1},{"x":-4.45,"y":-6.45,"c":1},{"x":-4.3,"y":-6.45,"c":1},{"x":-4.15,"y":-6.45,"c":1},{"x":-4,"y":-6.45,"c":1},{"x":-3.85,"y":-6.45,"c":1},{"x":-3.7,"y":-6.45,"c":1},{"x":-3.55,"y":-6.45,"c":1},{"x":-5.26,"y":-6.5,"c":1},{"x":-4.65,"y":-6.6,"c":1},{"x":-4.5,"y":-6.6,"c":1},{"x":-4.35,"y":-6.6,"c":1},{"x":-4.2,"y":-6.6,"c":1},{"x":-4.05,"y":-6.6,"c":1},{"x":-3.9,"y":-6.6,"c":1},{"x":-3.75,"y":-6.6,"c":1},{"x":-3.6,"y":-6.6,"c":1},{"x":-5.3,"y":-6.7,"c":1},{"x":-4.9,"y":-6.72,"c":1},{"x":-5.1,"y":-6.78,"c":1},{"x":-5.25,"y":-6.78,"c":1},{"x":-5.5,"y":-6.8,"c":1},{"x":-4.7,"y":-6.75,"c":1},{"x":-4.55,"y":-6.75,"c":1},{"x":-4.4,"y":-6.75,"c":1},{"x":-4.25,"y":-6.75,"c":1},{"x":-4.1,"y":-6.75,"c":1},{"x":-3.95,"y":-6.75,"c":1},{"x":-3.8,"y":-6.75,"c":1},{"x":-3.65,"y":-6.75,"c":1},{"x":-5.65,"y":-6.9,"c":1},{"x":-5.5,"y":-6.9,"c":1},{"x":-5.35,"y":-6.9,"c":1},{"x":-5.2,"y":-6.9,"c":1},{"x":-5.05,"y":-6.9,"c":1},{"x":-4.9,"y":-6.9,"c":1},{"x":-4.75,"y":-6.9,"c":1},{"x":-4.6,"y":-6.9,"c":1},{"x":-4.45,"y":-6.9,"c":1},{"x":-4.3,"y":-6.9,"c":1},{"x":-4.15,"y":-6.9,"c":1},{"x":-4,"y":-6.9,"c":1},{"x":-3.85,"y":-6.9,"c":1},{"x":-3.7,"y":-6.9,"c":1},{"x":-3.55,"y":-6.9,"c":1},{"x":-3.27,"y":-6.96,"c":1},{"x":-5.85,"y":-7.05,"c":1},{"x":-5.7,"y":-7.05,"c":1},{"x":-5.55,"y":-7.05,"c":1},{"x":-5.4,"y":-7.05,"c":1},{"x":-5.25,"y":-7.05,"c":1},{"x":-5.1,"y":-7.05,"c":1},{"x":-4.95,"y":-7.05,"c":1},{"x":-4.8,"y":-7.05,"c":1},{"x":-4.65,"y":-7.05,"c":1},{"x":-4.5,"y":-7.05,"c":1},{"x":-4.35,"y":-7.05,"c":1},{"x":-4.2,"y":-7.05,"c":1},{"x":-4.05,"y":-7.05,"c":1},{"x":-3.9,"y":-7.05,"c":1},{"x":-3.75,"y":-7.05,"c":1},{"x":-3.55,"y":-7.1,"c":1},{"x":-3.5,"y":-7,"c":1},{"x":-3.4,"y":-6.95,"c":1},{"x":-3.23,"y":-7.17,"c":1},{"x":-5.95,"y":-7.2,"c":1},{"x":-5.8,"y":-7.2,"c":1},{"x":-5.65,"y":-7.2,"c":1},{"x":-5.5,"y":-7.2,"c":1},{"x":-5.35,"y":-7.2,"c":1},{"x":-5.2,"y":-7.2,"c":1},{"x":-5.05,"y":-7.2,"c":1},{"x":-4.9,"y":-7.2,"c":1},{"x":-4.75,"y":-7.2,"c":1},{"x":-4.6,"y":-7.2,"c":1},{"x":-4.45,"y":-7.2,"c":1},{"x":-4.3,"y":-7.2,"c":1},{"x":-4.15,"y":-7.2,"c":1},{"x":-4,"y":-7.2,"c":1},{"x":-3.85,"y":-7.2,"c":1},{"x":-3.7,"y":-7.15,"c":1},{"x":-3.6,"y":-7.25,"c":1},{"x":-3.7,"y":-7.3,"c":1},{"x":-5.9,"y":-7.35,"c":1},{"x":-5.75,"y":-7.35,"c":1},{"x":-5.6,"y":-7.35,"c":1},{"x":-5.45,"y":-7.35,"c":1},{"x":-5.3,"y":-7.35,"c":1},{"x":-5.15,"y":-7.35,"c":1},{"x":-5,"y":-7.35,"c":1},{"x":-4.85,"y":-7.35,"c":1},{"x":-4.7,"y":-7.35,"c":1},{"x":-4.55,"y":-7.35,"c":1},{"x":-4.4,"y":-7.35,"c":1},{"x":-4.25,"y":-7.35,"c":1},{"x":-4.1,"y":-7.35,"c":1},{"x":-3.95,"y":-7.35,"c":1},{"x":-3.85,"y":-7.35,"c":1},{"x":-3.78,"y":-7.45,"c":1},{"x":-5.55,"y":-7.47,"c":1},{"x":-5.35,"y":-7.47,"c":1},{"x":-5.2,"y":-7.45,"c":1},{"x":-4.95,"y":-7.45,"c":1},{"x":-4.7,"y":-7.43,"c":1},{"x":-4.4,"y":-7.42,"c":1},{"x":-4.15,"y":-7.42,"c":1},{"x":-3.27,"y":-7.52,"c":1},
{"x":-6.6,"y":-6.2,"c":10},{"x":-6.8,"y":-6.35,"c":10},{"x":-7,"y":-6.2,"c":10},{"x":-7.15,"y":-6.5,"c":10},{"x":-7.3,"y":-6.35,"c":10},{"x":-7.45,"y":-6.4,"c":10},{"x":-7.6,"y":-6.42,"c":10},{"x":-7.25,"y":-6.7,"c":10},{"x":-7.35,"y":-6.85,"c":10},{"x":-7.5,"y":-7,"c":10},{"x":-7.6,"y":-7.05,"c":10},{"x":-6.62,"y":-6.08,"c":10},{"x":-6.72,"y":-6.15,"c":10},{"x":-6.82,"y":-6.2,"c":10},{"x":-6.92,"y":-6.25,"c":10},{"x":-7.02,"y":-6.3,"c":10},{"x":-7.12,"y":-6.36,"c":10},{"x":-7.22,"y":-6.42,"c":10},{"x":-7.32,"y":-6.46,"c":10},{"x":-6.75,"y":-6.25,"c":10},{"x":-6.9,"y":-6.35,"c":10},{"x":-7.05,"y":-6.45,"c":10},{"x":-7.2,"y":-6.55,"c":10},{"x":-7.35,"y":-6.6,"c":10},{"x":-6.65,"y":-6.2,"c":10},{"x":-8.75,"y":-6.45,"c":10},{"x":-8.6,"y":-6.45,"c":10},{"x":-8.45,"y":-6.45,"c":10},{"x":-8.3,"y":-6.45,"c":10},{"x":-8.15,"y":-6.45,"c":10},{"x":-8,"y":-6.45,"c":10},{"x":-7.85,"y":-6.45,"c":10},{"x":-7.7,"y":-6.5,"c":10},{"x":-7.5,"y":-6.5,"c":10},{"x":-8.95,"y":-6.5,"c":10},{"x":-8.9,"y":-6.6,"c":10},{"x":-8.75,"y":-6.6,"c":10},{"x":-8.6,"y":-6.6,"c":10},{"x":-8.45,"y":-6.6,"c":10},{"x":-8.3,"y":-6.6,"c":10},{"x":-8.15,"y":-6.6,"c":10},{"x":-8,"y":-6.6,"c":10},{"x":-7.85,"y":-6.6,"c":10},{"x":-7.7,"y":-6.6,"c":10},{"x":-7.55,"y":-6.6,"c":10},{"x":-7.4,"y":-6.65,"c":10},{"x":-9.1,"y":-6.65,"c":10},{"x":-9.05,"y":-6.75,"c":10},{"x":-8.9,"y":-6.75,"c":10},{"x":-8.75,"y":-6.75,"c":10},{"x":-8.6,"y":-6.75,"c":10},{"x":-8.45,"y":-6.75,"c":10},{"x":-8.3,"y":-6.75,"c":10},{"x":-8.1,"y":-6.75,"c":10},{"x":-7.95,"y":-6.78,"c":10},{"x":-7.85,"y":-6.75,"c":10},{"x":-7.7,"y":-6.75,"c":10},{"x":-7.55,"y":-6.75,"c":10},{"x":-7.4,"y":-6.78,"c":10},{"x":-9.25,"y":-6.8,"c":10},{"x":-9.2,"y":-6.9,"c":10},{"x":-9.05,"y":-6.9,"c":10},{"x":-8.9,"y":-6.9,"c":10},{"x":-8.75,"y":-6.9,"c":10},{"x":-8.55,"y":-6.9,"c":10},{"x":-8.4,"y":-6.9,"c":10},{"x":-8.25,"y":-6.9,"c":10},{"x":-8.1,"y":-6.9,"c":10},{"x":-7.95,"y":-6.95,"c":10},{"x":-7.85,"y":-6.9,"c":10},{"x":-7.7,"y":-6.9,"c":10},{"x":-7.55,"y":-6.9,"c":10},{"x":-9.35,"y":-6.95,"c":10},{"x":-9.3,"y":-7.05,"c":10},{"x":-9.15,"y":-7.05,"c":10},{"x":-9,"y":-7.05,"c":10},{"x":-8.85,"y":-7.05,"c":10},{"x":-8.7,"y":-7.05,"c":10},{"x":-8.45,"y":-7.05,"c":10},{"x":-8.3,"y":-7.05,"c":10},{"x":-8.15,"y":-7.05,"c":10},{"x":-7.95,"y":-7.1,"c":10},{"x":-7.85,"y":-7.05,"c":10},{"x":-7.7,"y":-7.05,"c":10},{"x":-9.35,"y":-7.15,"c":10},{"x":-9.25,"y":-7.2,"c":10},{"x":-9.1,"y":-7.2,"c":10},{"x":-8.95,"y":-7.2,"c":10},{"x":-8.8,"y":-7.2,"c":10},{"x":-8.65,"y":-7.2,"c":10},{"x":-8.45,"y":-7.2,"c":10},{"x":-8.3,"y":-7.2,"c":10},{"x":-8.15,"y":-7.2,"c":10},{"x":-7.85,"y":-7.15,"c":10},{"x":-9.05,"y":-7.35,"c":10},{"x":-8.9,"y":-7.35,"c":10},{"x":-8.75,"y":-7.35,"c":10},{"x":-8.6,"y":-7.35,"c":10},{"x":-8.45,"y":-7.35,"c":10},{"x":-8.3,"y":-7.35,"c":10},{"x":-7.96,"y":-7.4,"c":10},{"x":-9.25,"y":-7.5,"c":10},{"x":-9.15,"y":-7.5,"c":10},{"x":-9,"y":-7.5,"c":10},{"x":-8.85,"y":-7.5,"c":10},{"x":-8.7,"y":-7.5,"c":10},{"x":-8.55,"y":-7.5,"c":10},{"x":-8.4,"y":-7.5,"c":10},{"x":-9.3,"y":-7.65,"c":10},{"x":-9.15,"y":-7.65,"c":10},{"x":-9,"y":-7.65,"c":10},{"x":-8.85,"y":-7.65,"c":10},{"x":-8.7,"y":-7.65,"c":10},{"x":-8.55,"y":-7.62,"c":10},{"x":-9.3,"y":-7.8,"c":10},{"x":-9.15,"y":-7.8,"c":10},{"x":-9,"y":-7.8,"c":10},{"x":-8.8,"y":-7.78,"c":10},{"x":-8.3,"y":-7.77,"c":10},{"x":-9.25,"y":-7.9,"c":10},{"x":-9.1,"y":-7.9,"c":10},{"x":-9.2,"y":-7.95,"c":10},{"x":-9.05,"y":-7.95,"c":10},{"x":-8.9,"y":-7.95,"c":10},{"x":-8.7,"y":-7.9,"c":10},{"x":-8.4,"y":-7.98,"c":10},{"x":-9.15,"y":-8.05,"c":10},{"x":-8.85,"y":-8.05,"c":10},{"x":-8.7,"y":-8,"c":10},{"x":-9.05,"y":-8.08,"c":10},{"x":-8.9,"y":-8.1,"c":10},{"x":-8.75,"y":-8.12,"c":10},{"x":-8.6,"y":-8.08,"c":10},{"x":-8.55,"y":-8,"c":10},{"x":-8.8,"y":-8.15,"c":10},{"x":-8.65,"y":-8.15,"c":10},{"x":-8.95,"y":-8.12,"c":10},{"x":-6.62,"y":-6.85,"c":10},{"x":-6.62,"y":-7,"c":10},{"x":-6.6,"y":-7.12,"c":10},{"x":-6.5,"y":-7.15,"c":10},{"x":-6.65,"y":-6.72,"c":10},
{"x":-1.87,"y":-5.3,"c":2},{"x":-1.85,"y":-5.38,"c":2},{"x":-1.8,"y":-5.45,"c":2},{"x":-1.75,"y":-5.35,"c":2},{"x":-1.95,"y":-5.4,"c":2},{"x":-1.56,"y":-5.46,"c":2},{"x":-1.62,"y":-5.65,"c":2},{"x":-1.6,"y":-5.8,"c":2},{"x":-1.7,"y":-5.8,"c":2},{"x":-1.58,"y":-5.95,"c":2},{"x":-1.68,"y":-6,"c":2},{"x":-1.55,"y":-6.1,"c":2},{"x":-1.42,"y":-6,"c":2},{"x":-1.52,"y":-6.25,"c":2},{"x":-1.65,"y":-6.2,"c":2},{"x":-1.45,"y":-6.2,"c":2},{"x":-1.45,"y":-6.35,"c":2},{"x":-1.3,"y":-6.35,"c":2},{"x":-1.4,"y":-6.5,"c":2},{"x":-1.2,"y":-6.5,"c":2},{"x":-1.5,"y":-6.45,"c":2},{"x":-1.3,"y":-6.6,"c":2},{"x":-1.2,"y":-6.7,"c":2},{"x":-1.1,"y":-6.7,"c":2},{"x":-1.35,"y":-6.75,"c":2},{"x":-1.2,"y":-6.85,"c":2},{"x":-1.05,"y":-6.85,"c":2},{"x":-1.05,"y":-6.95,"c":2},{"x":-1.15,"y":-7,"c":2},{"x":-1.45,"y":-6.65,"c":2},{"x":-1.6,"y":-6.55,"c":2},{"x":-1.5,"y":-6.8,"c":2},{"x":-1.35,"y":-6.9,"c":2},{"x":-2.7,"y":-5.81,"c":2},{"x":-2.83,"y":-6.2,"c":2},{"x":-2.95,"y":-6.25,"c":2},{"x":-2.85,"y":-6.35,"c":2},{"x":-2.75,"y":-6.3,"c":2},{"x":-2.95,"y":-6.45,"c":2},{"x":-2.7,"y":-6.45,"c":2},{"x":-2.6,"y":-6.55,"c":2},{"x":-2.8,"y":-6.5,"c":2},{"x":-2.9,"y":-6.65,"c":2},{"x":-2.65,"y":-6.7,"c":2},{"x":-2.5,"y":-6.7,"c":2},{"x":-2.75,"y":-6.8,"c":2},{"x":-2.4,"y":-6.85,"c":2},{"x":-2.55,"y":-6.85,"c":2},{"x":-2.65,"y":-7,"c":2},{"x":-2.3,"y":-7,"c":2},{"x":-2.45,"y":-7,"c":2},{"x":-2.5,"y":-7.1,"c":2},{"x":-2.2,"y":-7.1,"c":2},{"x":-2.35,"y":-7.15,"c":2},{"x":-2.1,"y":-7.25,"c":2},{"x":-2.25,"y":-7.3,"c":2},{"x":-2,"y":-7.4,"c":2},{"x":-2.15,"y":-7.45,"c":2},{"x":-2.45,"y":-6.25,"c":2},{"x":-2.13,"y":-6.3,"c":2},{"x":-2.35,"y":-6.5,"c":2},{"x":-2.05,"y":-6.42,"c":2},{"x":-2.15,"y":-6.45,"c":2},{"x":-1.95,"y":-6.65,"c":2},{"x":-1.9,"y":-6.75,"c":2},{"x":-1.85,"y":-6.65,"c":2},{"x":-2.3,"y":-6.7,"c":2},{"x":-2.2,"y":-6.85,"c":2},{"x":-2.1,"y":-7,"c":2},{"x":-2,"y":-7.1,"c":2},{"x":-3.05,"y":-6.92,"c":2},{"x":-2.95,"y":-7,"c":2},{"x":-2.85,"y":-7.1,"c":2},{"x":-2.7,"y":-7.15,"c":2},{"x":-2.55,"y":-7.2,"c":2},{"x":-2.95,"y":-7.15,"c":2},{"x":-2.8,"y":-7.25,"c":2},{"x":-2.65,"y":-7.3,"c":2},{"x":-2.5,"y":-7.35,"c":2},{"x":-2.35,"y":-7.35,"c":2},{"x":-3.19,"y":-7.54,"c":2},{"x":-3.1,"y":-7.5,"c":2},{"x":-3,"y":-7.4,"c":2},{"x":-2.83,"y":-7.42,"c":2},{"x":-2.7,"y":-7.42,"c":2},{"x":-2.55,"y":-7.42,"c":2},{"x":-0.37,"y":-6.67,"c":2},{"x":-0.5,"y":-6.68,"c":2},{"x":-0.77,"y":-6.77,"c":2},{"x":-0.9,"y":-6.8,"c":2},{"x":-0.65,"y":-6.85,"c":2},{"x":-0.02,"y":-6.65,"c":2},{"x":0.25,"y":-6.85,"c":2},{"x":0.15,"y":-6.9,"c":2},{"x":0.05,"y":-6.95,"c":2},{"x":-0.1,"y":-7,"c":2},{"x":-0.25,"y":-7.05,"c":2},{"x":-0.5,"y":-6.95,"c":2},{"x":-0.8,"y":-6.95,"c":2},{"x":-1.05,"y":-7.1,"c":2},{"x":-0.9,"y":-7.1,"c":2},{"x":-0.75,"y":-7.1,"c":2},{"x":-0.6,"y":-7.1,"c":2},{"x":-0.45,"y":-7.1,"c":2},{"x":-0.3,"y":-7.1,"c":2},{"x":-0.15,"y":-7.15,"c":2},{"x":-1.8,"y":-7.05,"c":2},{"x":-1.65,"y":-7.1,"c":2},{"x":-1.45,"y":-7.05,"c":2},{"x":-1.3,"y":-7.15,"c":2},{"x":-2,"y":-7.25,"c":2},{"x":-1.2,"y":-7.25,"c":2},{"x":-1.05,"y":-7.25,"c":2},{"x":-0.9,"y":-7.25,"c":2},{"x":-0.75,"y":-7.25,"c":2},{"x":-0.6,"y":-7.25,"c":2},{"x":-0.45,"y":-7.25,"c":2},{"x":-0.3,"y":-7.25,"c":2},{"x":-0.2,"y":-7.25,"c":2},{"x":-0.05,"y":-7.3,"c":2},{"x":-1.95,"y":-7.4,"c":2},{"x":-1.8,"y":-7.4,"c":2},{"x":-1.65,"y":-7.4,"c":2},{"x":-1.5,"y":-7.4,"c":2},{"x":-1.35,"y":-7.4,"c":2},{"x":-1.2,"y":-7.4,"c":2},{"x":-1.05,"y":-7.4,"c":2},{"x":-0.9,"y":-7.4,"c":2},{"x":-0.75,"y":-7.4,"c":2},{"x":-0.6,"y":-7.4,"c":2},{"x":-0.45,"y":-7.4,"c":2},{"x":-0.3,"y":-7.4,"c":2},{"x":-0.15,"y":-7.4,"c":2},{"x":-0.05,"y":-7.5,"c":2},{"x":-2.1,"y":-7.55,"c":2},{"x":-1.95,"y":-7.55,"c":2},{"x":-1.8,"y":-7.55,"c":2},{"x":-1.65,"y":-7.55,"c":2},{"x":-1.5,"y":-7.55,"c":2},{"x":-1.35,"y":-7.55,"c":2},{"x":-1.2,"y":-7.55,"c":2},{"x":-1.05,"y":-7.55,"c":2},{"x":-0.9,"y":-7.55,"c":2},{"x":-0.75,"y":-7.55,"c":2},{"x":-0.6,"y":-7.55,"c":2},{"x":-0.45,"y":-7.55,"c":2},{"x":-0.3,"y":-7.55,"c":2},{"x":-0.2,"y":-7.55,"c":2},{"x":-0.1,"y":-7.65,"c":2},{"x":-2.2,"y":-7.6,"c":2},{"x":-2.05,"y":-7.75,"c":2},{"x":-1.95,"y":-7.7,"c":2},{"x":-1.8,"y":-7.7,"c":2},{"x":-1.65,"y":-7.7,"c":2},{"x":-1.5,"y":-7.7,"c":2},{"x":-1.35,"y":-7.7,"c":2},{"x":-1.2,"y":-7.7,"c":2},{"x":-1.05,"y":-7.7,"c":2},{"x":-0.9,"y":-7.7,"c":2},{"x":-0.75,"y":-7.7,"c":2},{"x":-0.6,"y":-7.7,"c":2},{"x":-0.45,"y":-7.7,"c":2},{"x":-0.3,"y":-7.7,"c":2},{"x":-0.2,"y":-7.8,"c":2},{"x":-1.85,"y":-7.85,"c":2},{"x":-1.7,"y":-7.85,"c":2},{"x":-1.55,"y":-7.85,"c":2},{"x":-1.4,"y":-7.85,"c":2},{"x":-1.25,"y":-7.85,"c":2},{"x":-1.1,"y":-7.85,"c":2},{"x":-0.95,"y":-7.85,"c":2},{"x":-0.8,"y":-7.85,"c":2},{"x":-0.65,"y":-7.85,"c":2},{"x":-0.5,"y":-7.85,"c":2},{"x":-0.4,"y":-7.85,"c":2},{"x":-1.85,"y":-7.95,"c":2},{"x":-1.7,"y":-8,"c":2},{"x":-1.55,"y":-8,"c":2},{"x":-1.4,"y":-8,"c":2},{"x":-1.25,"y":-8,"c":2},{"x":-1.1,"y":-8,"c":2},{"x":-0.95,"y":-8,"c":2},{"x":-0.8,"y":-8,"c":2},{"x":-0.65,"y":-8,"c":2},{"x":-0.55,"y":-8,"c":2},{"x":-0.35,"y":-8,"c":2},{"x":-0.45,"y":-8.1,"c":2},{"x":-1.55,"y":-8.15,"c":2},{"x":-1.45,"y":-8.15,"c":2},{"x":-1.3,"y":-8.15,"c":2},{"x":-1.15,"y":-8.15,"c":2},{"x":-1,"y":-8.12,"c":2},{"x":-0.85,"y":-8.08,"c":2},{"x":-0.7,"y":-8.15,"c":2},
{"x":2.86,"y":-3.46,"c":4},{"x":2.8,"y":-3.52,"c":4},{"x":2.74,"y":-3.57,"c":4},{"x":2.68,"y":-3.63,"c":4},{"x":2.62,"y":-3.69,"c":4},{"x":2.56,"y":-3.75,"c":4},{"x":2.5,"y":-3.81,"c":4},{"x":2.44,"y":-3.87,"c":4},{"x":2.38,"y":-3.93,"c":4},{"x":2.32,"y":-3.99,"c":4},{"x":2.27,"y":-4.04,"c":4},{"x":2.78,"y":-3.45,"c":4},{"x":2.7,"y":-3.55,"c":4},{"x":2.58,"y":-3.65,"c":4},{"x":2.46,"y":-3.78,"c":4},{"x":2.34,"y":-3.9,"c":4},{"x":2.25,"y":-3.95,"c":4},{"x":2.1,"y":-4.2,"c":4},{"x":2,"y":-4.31,"c":4},{"x":1.9,"y":-4.4,"c":4},{"x":1.74,"y":-4.54,"c":4},{"x":1.82,"y":-4.48,"c":4},{"x":1.68,"y":-4.6,"c":4},{"x":1.6,"y":-4.55,"c":4},{"x":1.6,"y":-4.68,"c":4},{"x":1.5,"y":-4.65,"c":4},{"x":1.54,"y":-4.76,"c":4},{"x":1.42,"y":-4.75,"c":4},{"x":1.47,"y":-4.84,"c":4},{"x":1.35,"y":-4.82,"c":4},{"x":1.39,"y":-4.92,"c":4},{"x":1.28,"y":-4.9,"c":4},{"x":1.32,"y":-5,"c":4},{"x":1.2,"y":-5,"c":4},{"x":1.25,"y":-5.1,"c":4},{"x":1.12,"y":-5.1,"c":4},{"x":1.18,"y":-5.2,"c":4},{"x":1.05,"y":-5.2,"c":4},{"x":1.3,"y":-5.2,"c":4},{"x":1.1,"y":-5.3,"c":4},{"x":0.98,"y":-5.3,"c":4},{"x":1.2,"y":-5.35,"c":4},{"x":1.04,"y":-5.38,"c":4},{"x":1.15,"y":-5.45,"c":4},{"x":1,"y":-5.48,"c":4},{"x":0.96,"y":-5.58,"c":4},{"x":1.08,"y":-5.55,"c":4},{"x":1.12,"y":-5.65,"c":4},{"x":0.9,"y":-5.68,"c":4},{"x":1.02,"y":-5.68,"c":4},{"x":0.86,"y":-5.8,"c":4},{"x":0.98,"y":-5.8,"c":4},{"x":1.08,"y":-5.8,"c":4},{"x":0.76,"y":-5.92,"c":4},{"x":0.88,"y":-5.92,"c":4},{"x":0.95,"y":-6,"c":4},{"x":0.64,"y":-5.62,"c":4},{"x":0.9,"y":-5.4,"c":4},{"x":0.72,"y":-6,"c":4},{"x":0.6,"y":-6,"c":4},{"x":0.82,"y":-6.04,"c":4},{"x":0.85,"y":-6.15,"c":4},{"x":0.5,"y":-5.95,"c":4},{"x":0.55,"y":-6,"c":4},{"x":0.38,"y":-5.98,"c":4},{"x":0.42,"y":-6.1,"c":4},{"x":0.25,"y":-5.95,"c":4},{"x":0.18,"y":-6.05,"c":4},{"x":0.12,"y":-6,"c":4},{"x":0,"y":-6.02,"c":4},{"x":-0.1,"y":-6.05,"c":4},{"x":0.3,"y":-6.05,"c":4},{"x":0.6,"y":-6.12,"c":4},{"x":0.72,"y":-6.15,"c":4},{"x":0.75,"y":-6.3,"c":4},{"x":0.5,"y":-6.23,"c":4},{"x":0.62,"y":-6.25,"c":4},{"x":0.5,"y":-6.35,"c":4},{"x":0.65,"y":-6.4,"c":4},{"x":0.42,"y":-6.45,"c":4},{"x":0.55,"y":-6.42,"c":4},{"x":0.55,"y":-6.55,"c":4},{"x":0.45,"y":-6.6,"c":4},{"x":0.38,"y":-6.55,"c":4},{"x":0.3,"y":-6.55,"c":4},{"x":0.28,"y":-6.62,"c":4},{"x":0.2,"y":-6.6,"c":4},{"x":0.33,"y":-6.7,"c":4},{"x":0.42,"y":-6.75,"c":4},{"x":0.25,"y":-6.75,"c":4},{"x":-0.48,"y":-5.27,"c":4},{"x":-0.45,"y":-5.42,"c":4},{"x":-0.41,"y":-5.5,"c":4},{"x":-0.47,"y":-5.58,"c":4},{"x":-0.38,"y":-5.58,"c":4},{"x":-0.46,"y":-5.85,"c":4},{"x":-0.81,"y":-3.9,"c":4},{"x":-0.78,"y":-3.95,"c":4},{"x":-0.84,"y":-3.94,"c":4},{"x":-1.12,"y":-4.06,"c":4},{"x":-1.2,"y":-4.15,"c":4},{"x":-1.3,"y":-4.25,"c":4},{"x":-1.43,"y":-4.33,"c":4},{"x":-1.38,"y":-4.38,"c":4},{"x":-1.32,"y":-4.5,"c":4},{"x":-1.32,"y":-4.62,"c":4},
{"x":-3.27,"y":-7.52,"c":8}
]},"mark":{"type":"circle","size":125,"opacity":0.75,"strokeWidth":0},"encoding":{"x":{"field":"x","type":"quantitative","scale":{"domain":[-10.69,13.16],"nice":false,"zero":false},"axis":{"title":"UMAP 1","values":[-10,-5,0,5,10],"labelExpr":"''+datum.value","grid":false,"domainColor":"black","domainWidth":2.2,"tickColor":"black","tickWidth":2.2,"tickSize":7,"labelColor":"black","labelFont":"Liberation Sans","labelFontSize":22.8,"labelPadding":4,"titleFont":"Liberation Sans","titleFontSize":26.4,"titleFontWeight":"normal","titleColor":"black","titlePadding":6}},"y":{"field":"y","type":"quantitative","scale":{"domain":[-9.13,10.89],"nice":false,"zero":false},"axis":{"title":"UMAP 2","values":[-5,0,5,10],"labelExpr":"''+datum.value","grid":false,"domainColor":"black","domainWidth":2.2,"tickColor":"black","tickWidth":2.2,"tickSize":7,"labelColor":"black","labelFont":"Liberation Sans","labelFontSize":22.8,"labelPadding":5,"titleFont":"Liberation Sans","titleFontSize":26.4,"titleFontWeight":"normal","titleColor":"black","titlePadding":9}},"color":{"field":"c","type":"ordinal","scale":{"domain":[1,2,3,4,5,6,7,8,9,10],"range":["#729ECE","#FF9E4A","#67BF5C","#ED665D","#AD8BC9","#A8786E","#ED97CA","#A2A2A2","#CDCC5D","#6DCCDA"]},"legend":{"title":"kmeans_cluster","titleLimit":400,"orient":"none","legendX":1061,"legendY":270,"titleFont":"Liberation Sans","titleFontSize":26.4,"titleFontWeight":"normal","titleColor":"black","titlePadding":15,"labelFont":"Liberation Sans","labelFontSize":22.8,"labelColor":"black","labelOffset":16,"symbolType":"circle","symbolSize":110,"symbolOpacity":0.6,"symbolOffset":4,"rowPadding":5.3,"padding":0,"offset":0}}}}
